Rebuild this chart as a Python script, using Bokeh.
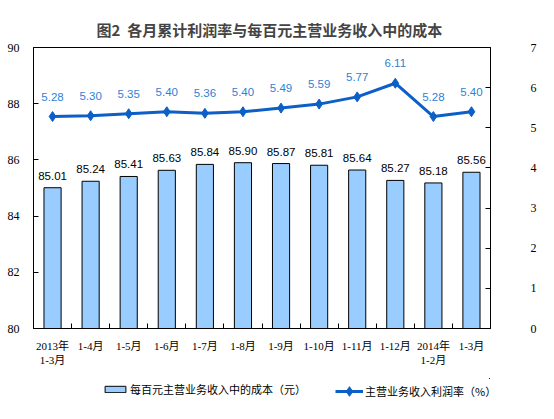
from bokeh.plotting import figure
from bokeh.layouts import column
from bokeh.models import (Range1d, LinearAxis, FixedTicker, Legend, LegendItem,
                          ColumnDataSource)
from bokeh.core.properties import value
from bokeh.embed import file_html
from bokeh.resources import INLINE

# data
months = ["2013年\n1-3月", "1-4月", "1-5月", "1-6月", "1-7月", "1-8月", "1-9月",
          "1-10月", "1-11月", "1-12月", "2014年\n1-2月", "1-3月"]
cost = [85.01, 85.24, 85.41, 85.63, 85.84, 85.90, 85.87, 85.81, 85.64, 85.27, 85.18, 85.56]
margin = [5.28, 5.30, 5.35, 5.40, 5.36, 5.40, 5.49, 5.59, 5.77, 6.11, 5.28, 5.40]
left_ticks = [80, 82, 84, 86, 88, 90]
right_ticks = [0, 1, 2, 3, 4, 5, 6, 7]
cost_name = "每百元主营业务收入中的成本（元）"
margin_name = "主营业务收入利润率（%）"

idx = list(range(len(months)))
src = ColumnDataSource(dict(
    x=idx,
    cost=cost,
    margin=margin,
    cost_lbl=["%.2f" % v for v in cost],
    margin_lbl=["%.2f" % v for v in margin],
))

SERIF = "Liberation Serif, Noto Sans CJK SC"
CJK = "Noto Sans CJK SC"
LINE_BLUE = "#0b5fc6"
LABEL_BLUE = "#2f7fd6"
BAR_FILL = "#99ccff"

p = figure(width=538, height=378, frame_width=457, frame_height=281,
           output_backend="svg", toolbar_location=None,
           x_range=Range1d(-0.5, len(months) - 0.5), y_range=Range1d(80, 90),
           min_border_left=33, min_border_right=48, min_border_top=47,
           min_border_bottom=50)

p.title.text = "图2\u00a0\u00a0各月累计利润率与每百元主营业务收入中的成本"
p.title.text_font = CJK
p.title.text_font_size = "15px"
p.title.text_font_style = "bold"
p.title.align = "left"
p.title.offset = 63
p.title.standoff = 16

p.xgrid.grid_line_color = None
p.ygrid.grid_line_color = None
p.outline_line_color = "black"
p.outline_line_width = 1
p.background_fill_color = "white"
p.border_fill_color = "white"

p.extra_y_ranges = {"right": Range1d(0, 7)}

# x axis: labels at centres, ticks at category boundaries
xa = p.xaxis[0]
xa.ticker = FixedTicker(ticks=idx, minor_ticks=[i + 0.5 for i in idx[:-1]])
xa.major_label_overrides = {i: m for i, m in zip(idx, months)}
xa.major_tick_line_color = None
xa.minor_tick_in = 5
xa.minor_tick_out = 0
xa.minor_tick_line_color = "black"
xa.major_label_text_font = SERIF
xa.major_label_text_font_size = "11px"
xa.major_label_text_color = "black"
xa.major_label_standoff = 5
xa.axis_line_color = "black"

ya = p.yaxis[0]
ya.ticker = FixedTicker(ticks=left_ticks)
ya.major_tick_in = 5
ya.major_tick_out = 0
ya.minor_tick_line_color = None
ya.major_label_text_font = SERIF
ya.major_label_text_font_size = "12px"
ya.major_label_text_color = "black"
ya.major_label_standoff = 14
ya.axis_line_color = "black"

ra = LinearAxis(y_range_name="right", ticker=FixedTicker(ticks=right_ticks))
ra.major_tick_in = 5
ra.major_tick_out = 0
ra.minor_tick_line_color = None
ra.major_label_text_font = SERIF
ra.major_label_text_font_size = "12px"
ra.major_label_text_color = "black"
ra.major_label_standoff = 40
ra.axis_line_color = "black"
p.add_layout(ra, "right")

p.vbar(x="x", top="cost", bottom=80, width=0.45, source=src,
       fill_color=BAR_FILL, line_color="black", line_width=1)
p.text(x="x", y="cost", text="cost_lbl", source=src, y_offset=-8,
       text_align="center", text_baseline="bottom", text_font=value("Liberation Sans"),
       text_font_size="11.5px", text_color="black")

p.line(x="x", y="margin", source=src, y_range_name="right",
       line_color=LINE_BLUE, line_width=3)
p.scatter(x="x", y="margin", source=src, y_range_name="right", marker="diamond",
          size=10, fill_color=LINE_BLUE, line_color=LINE_BLUE)
p.text(x="x", y="margin", text="margin_lbl", source=src, y_range_name="right",
       y_offset=-16, text_align="center", text_baseline="bottom",
       text_font=value("Liberation Sans"), text_font_size="11.5px", text_color=LABEL_BLUE)

# legend strip under the chart (a legend in the chart's own bottom panel breaks the layout).
# The proxy renderers use the same data, but the strip's ranges keep them out of view.
lf = figure(width=538, height=25, output_backend="svg", toolbar_location=None,
            x_range=Range1d(-3, -2), y_range=Range1d(-3, -2),
            x_axis_type=None, y_axis_type=None,
            min_border_left=0, min_border_right=7, min_border_top=0, min_border_bottom=0)
lf.outline_line_color = None
lf.xgrid.grid_line_color = None
lf.ygrid.grid_line_color = None
lb = lf.vbar(x="x", top="cost", width=0.45, source=src,
             fill_color=BAR_FILL, line_color="black", line_width=1)
ll = lf.line(x="x", y="margin", source=src, line_color=LINE_BLUE, line_width=3)
lp = lf.scatter(x="x", y="margin", source=src, marker="diamond", size=10,
                fill_color=LINE_BLUE, line_color=LINE_BLUE)


def style_legend(lg, gw, gh):
    lg.label_text_font = CJK
    lg.label_text_font_size = "11px"
    lg.label_text_color = "black"
    lg.glyph_width = gw
    lg.glyph_height = gh
    lg.label_height = 12
    lg.label_standoff = 2
    lg.padding = 0
    lg.margin = 0
    lg.border_line_color = None
    lg.background_fill_alpha = 0


# two legends: the line entry needs a taller glyph box so its diamond is drawn at full size
leg_bar = Legend(items=[LegendItem(label=cost_name, renderers=[lb], index=0)],
                 location=(69, 6), orientation="horizontal")
style_legend(leg_bar, 26, 8)
lf.add_layout(leg_bar, "center")

leg_line = Legend(items=[LegendItem(label=margin_name, renderers=[ll, lp], index=0)],
                  location=(302, 0), orientation="horizontal")
style_legend(leg_line, 28, 24)
lf.add_layout(leg_line, "center")

layout = column(p, lf, spacing=0)
open("out.html", "w").write(file_html(layout, INLINE))
